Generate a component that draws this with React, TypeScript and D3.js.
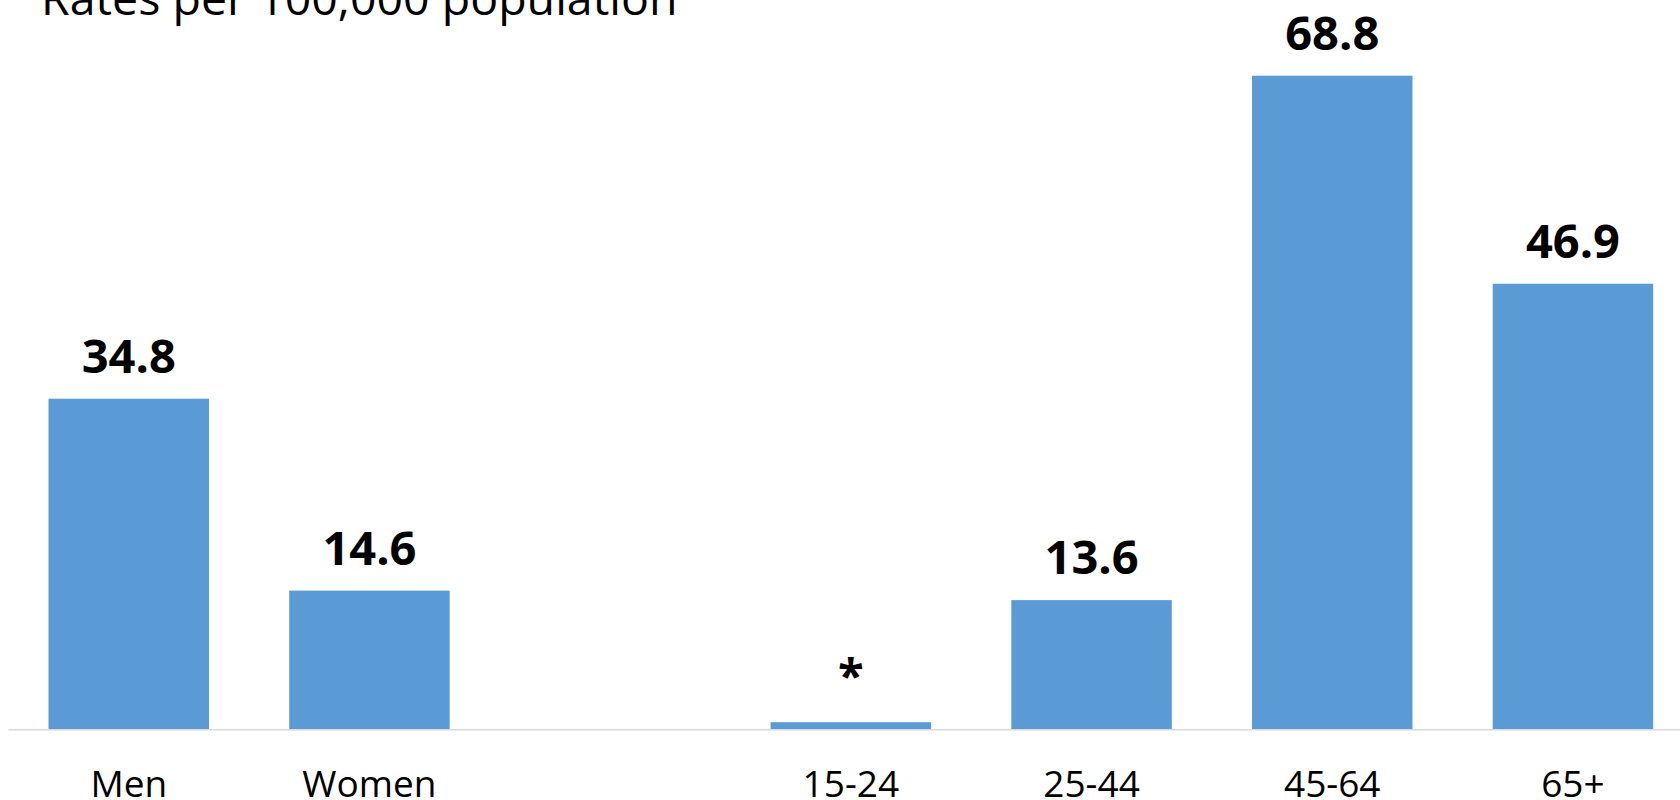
import React from "react";
import * as d3 from "d3";

const categories = ["Men", "Women", "", "15-24", "25-44", "45-64", "65+"];
const values: (number | null)[] = [34.8, 14.6, null, 0.75, 13.6, 68.8, 46.9];
const valueLabels = ["34.8", "14.6", "", "*", "13.6", "68.8", "46.9"];
const titleText = "Rates per 100,000 population";

const W = 1680;
const H = 800;
const BASE_Y = 729.3;

export default function App() {
  const keys = categories.map((c, i) => `${i}:${c}`);
  const x = d3
    .scaleBand<string>()
    .domain(keys)
    .range([8.4, 1693.3])
    .paddingInner(1 / 3)
    .paddingOuter(1 / 6);
  const y = d3.scaleLinear().domain([0, 80]).range([BASE_Y, BASE_Y - 760]);

  return (
    <svg
      width={W}
      height={H}
      style={{ position: "absolute", left: 0, top: 0, background: "#fff" }}
      fontFamily="'Open Sans', sans-serif"
    >
      <rect x={0} y={0} width={W} height={H} fill="#fff" />
      <text x={41} y={15} fontSize={46.5} fill="#000">
        {titleText}
      </text>
      {keys.map((k, i) => {
        const v = values[i];
        if (v == null) return null;
        const bx = x(k)!;
        const top = y(v);
        const isStar = valueLabels[i] === "*";
        return (
          <g key={k}>
            <rect
              x={bx}
              y={top}
              width={x.bandwidth()}
              height={y(0) - top}
              fill="#5B9BD5"
            />
            <text
              x={bx + x.bandwidth() / 2}
              y={top - 25.7 - (isStar ? 3 : 0)}
              textAnchor="middle"
              fontSize={47}
              fontWeight="bold"
              fill="#000"
            >
              {valueLabels[i]}
            </text>
          </g>
        );
      })}
      <line
        x1={x.range()[0]}
        x2={W}
        y1={y(0) + 0.5}
        y2={y(0) + 0.5}
        stroke="#D9D9D9"
        strokeWidth={1.5}
      />
      {keys.map((k, i) =>
        categories[i] ? (
          <text
            key={"c" + k}
            x={x(k)! + x.bandwidth() / 2}
            y={796.5}
            textAnchor="middle"
            fontSize={37}
            fill="#000"
          >
            {categories[i]}
          </text>
        ) : null
      )}
    </svg>
  );
}
